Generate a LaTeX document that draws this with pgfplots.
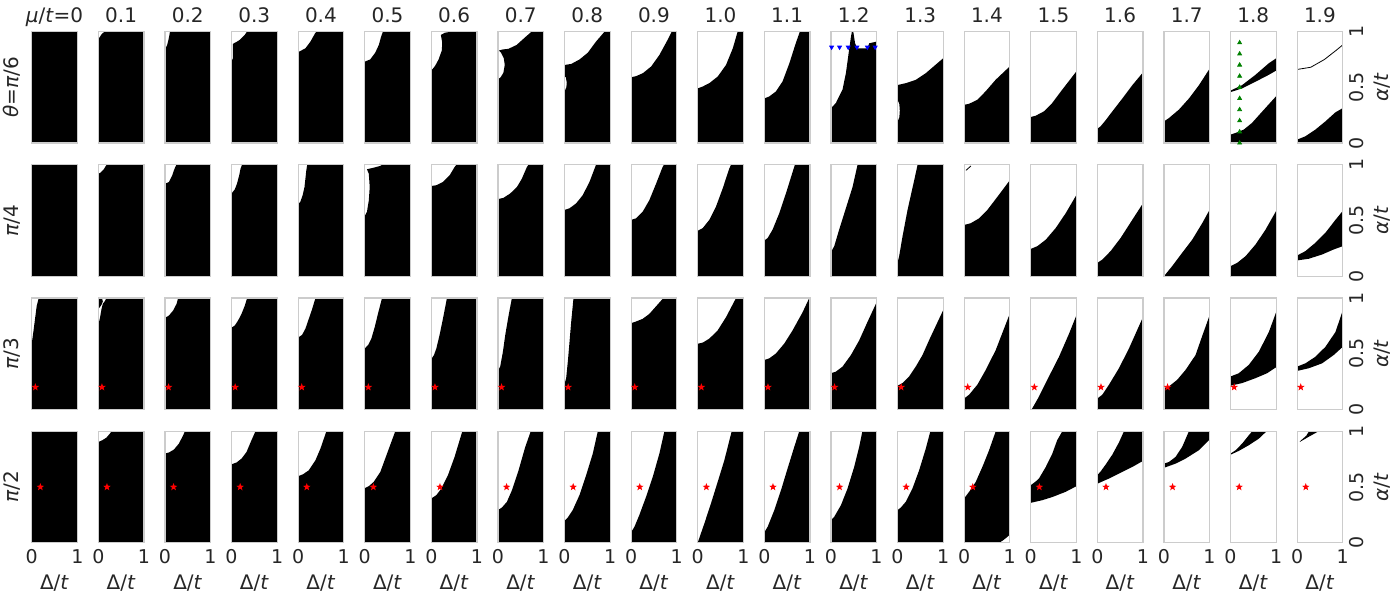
\documentclass[border=0pt]{standalone}
\usepackage{fontspec}
\setmainfont{DejaVu Sans}
\usepackage{pgfplots}
\pgfplotsset{compat=1.18}
\definecolor{txt}{RGB}{38,38,38}
\definecolor{frm}{RGB}{204,204,204}
\pgfdeclareplotmark{fstar}{%
 \pgfpathmoveto{\pgfpointpolar{90}{\pgfplotmarksize}}%
 \pgfpathlineto{\pgfpointpolar{126}{0.4\pgfplotmarksize}}%
 \pgfpathlineto{\pgfpointpolar{162}{\pgfplotmarksize}}%
 \pgfpathlineto{\pgfpointpolar{198}{0.4\pgfplotmarksize}}%
 \pgfpathlineto{\pgfpointpolar{234}{\pgfplotmarksize}}%
 \pgfpathlineto{\pgfpointpolar{270}{0.4\pgfplotmarksize}}%
 \pgfpathlineto{\pgfpointpolar{306}{\pgfplotmarksize}}%
 \pgfpathlineto{\pgfpointpolar{342}{0.4\pgfplotmarksize}}%
 \pgfpathlineto{\pgfpointpolar{18}{\pgfplotmarksize}}%
 \pgfpathlineto{\pgfpointpolar{54}{0.4\pgfplotmarksize}}%
 \pgfpathclose\pgfusepathqfillstroke}
\pgfplotsset{
 pnl/.style={scale only axis, width=22.8pt, height=55.7pt, xmin=0, xmax=1, ymin=0, ymax=1,
  anchor=south west, xtick=\empty, ytick=\empty,
  axis line style={draw=frm, line width=0.6pt}, axis on top, major tick length=0pt,
  tick label style={font=\fontsize{9.5}{11}\selectfont, text=txt},
  every axis title/.style={at={(0.5,1)}, anchor=base, yshift=4.5pt, font=\fontsize{10}{12}\selectfont, text=txt},
  every axis x label/.style={at={(axis description cs:0.5,0)}, anchor=base, yshift=-23.2pt, font=\fontsize{10}{12}\selectfont, text=txt}},
 bot/.style={xtick={0,1}, xticklabels={0,1}, xticklabel style={anchor=base, yshift=-10.3pt}, xlabel={Δ/\textit{t}}},
 lft/.style={ylabel={#1}, every axis y label/.style={at={(axis description cs:-0.432,0.5)}, rotate=90, anchor=center, font=\fontsize{10}{12}\selectfont, text=txt}},
 rgt/.style={ytick={0,0.5,1}, yticklabels={0,0.5,1}, yticklabel pos=right,
  yticklabel style={xshift=10.5pt, rotate=90, anchor=base},
  ylabel={\textit{α}/\textit{t}}, every axis y label/.style={at={(axis description cs:1.873,0.5)}, rotate=90, anchor=center, font=\fontsize{10}{12}\selectfont, text=txt}},
}
\newcommand\pnl[4]{\begin{axis}[pnl, at={({15.85pt+(#2-1)*33.3pt},{228.5pt-(#1-1)*66.62pt})}, #3]
#4
\end{axis}}
\newcommand\blk[1]{\addplot[fill=black, draw=none] coordinates {#1} -- cycle;}
\newcommand\rsa{\addplot[only marks, mark=fstar, mark size=1.4pt, color=red] coordinates {(0.08,0.2)};}
\newcommand\rsb{\addplot[only marks, mark=fstar, mark size=1.4pt, color=red] coordinates {(0.19,0.5)};}
\begin{document}
\begin{tikzpicture}
\useasboundingbox (0,0) rectangle (700pt,300pt);
% ---------------- row 1: theta = pi/6
\pnl{1}{1}{title={\textit{μ}/\textit{t}=0}, lft={\textit{θ}=\textit{π}/6}}{\blk{(0,0)(0,1)(1,1)(1,0)}}
\pnl{1}{2}{title={0.1}}{\blk{(0,0)(0,0.93)(0.03,0.95)(0.08,0.98)(0.14,1)(1,1)(1,0)}}
\pnl{1}{3}{title={0.2}}{\blk{(0,0)(0,0.84)(0.05,0.88)(0.08,0.93)(0.1,0.97)(0.11,1)(1,1)(1,0)}}
\pnl{1}{4}{title={0.3}}{\blk{(0,0)(0,0.73)(0.03,0.76)(0.03,0.89)(0.1,0.905)(0.18,0.925)(0.29,0.97)(0.34,1)(1,1)(1,0)}}
\pnl{1}{5}{title={0.4}}{\blk{(0,0)(0,0.815)(0.16,0.85)(0.27,0.91)(0.38,0.99)(0.42,1)(1,1)(1,0)}}
\pnl{1}{6}{title={0.5}}{\blk{(0,0)(0,0.73)(0.12,0.75)(0.23,0.81)(0.31,0.88)(0.36,0.955)(0.40,1)(1,1)(1,0)}}
\pnl{1}{7}{title={0.6}}{\blk{(0,0)(0,0.65)(0.08,0.69)(0.16,0.75)(0.23,0.83)(0.24,0.9)(0.21,0.97)(0.3,0.99)(0.45,1)(1,1)(1,0)}}
\pnl{1}{8}{title={0.7}}{\blk{(0,0)(0,0.57)(0.06,0.59)(0.12,0.63)(0.15,0.7)(0.13,0.76)(0.07,0.81)(0.02,0.83)(0.11,0.84)(0.23,0.845)(0.41,0.88)(0.6,0.95)(0.74,1)(1,1)(1,0)}}
\pnl{1}{9}{title={0.8}}{\blk{(0,0)(0,0.46)(0.04,0.5)(0.05,0.54)(0.03,0.59)(0,0.6)(0,0.70)(0.15,0.71)(0.33,0.75)(0.51,0.81)(0.69,0.91)(0.88,1)(1,1)(1,0)}}
\pnl{1}{10}{title={0.9}}{\blk{(0,0)(0,0.59)(0.11,0.60)(0.26,0.627)(0.44,0.687)(0.62,0.79)(0.80,0.925)(0.89,1)(1,1)(1,0)}}
\pnl{1}{11}{title={1.0}}{\blk{(0,0)(0,0.49)(0.11,0.507)(0.255,0.537)(0.44,0.597)(0.62,0.70)(0.77,0.85)(0.876,1)(1,1)(1,0)}}
\pnl{1}{12}{title={1.1}}{\blk{(0,0)(0,0.40)(0.11,0.418)(0.255,0.463)(0.40,0.552)(0.55,0.716)(0.69,0.896)(0.78,1)(1,1)(1,0)}}
\pnl{1}{13}{title={1.2}}{\blk{(0,0)(0,0.31)(0.11,0.36)(0.255,0.48)(0.33,0.63)(0.39,0.81)(0.44,0.955)(0.46,1)(0.49,1)(0.53,0.895)(0.58,0.85)(0.80,0.85)(0.84,0.895)(1,0.91)(1,0)}
 \addplot[only marks, mark=triangle*, mark options={rotate=180}, color=blue, mark size=1.1pt] coordinates {(0.015,0.86)(0.19,0.86)(0.38,0.86)(0.57,0.86)(0.8,0.86)(0.97,0.86)};}
\pnl{1}{14}{title={1.3}}{\blk{(0,0)(0,0.19)(0.04,0.23)(0.05,0.29)(0.04,0.35)(0,0.39)(0,0.52)(0.18,0.537)(0.40,0.567)(0.62,0.627)(0.8,0.69)(1,0.76)(1,0)}}
\pnl{1}{15}{title={1.4}}{\blk{(0,0)(0,0.343)(0.11,0.352)(0.29,0.388)(0.47,0.463)(0.69,0.567)(1,0.687)(1,0)}}
\pnl{1}{16}{title={1.5}}{\blk{(0,0)(0,0.233)(0.11,0.245)(0.29,0.284)(0.47,0.358)(0.69,0.478)(1,0.642)(1,0)}}
\pnl{1}{17}{title={1.6}}{\blk{(0,0)(0,0.128)(0.07,0.149)(0.18,0.203)(0.33,0.284)(0.55,0.40)(0.77,0.52)(1,0.633)(1,0)}}
\pnl{1}{18}{title={1.7}}{\blk{(0,0)(0,0.194)(0.11,0.224)(0.33,0.30)(0.55,0.40)(0.77,0.52)(1,0.666)(1,0)}}
\pnl{1}{19}{title={1.8}}{\blk{(0,0)(0,0.075)(0.11,0.09)(0.29,0.12)(0.47,0.18)(0.69,0.28)(1,0.42)(1,0)}
 \blk{(0,0.47)(0.255,0.52)(0.547,0.612)(0.84,0.716)(1,0.76)(1,0.65)(0.84,0.612)(0.547,0.55)(0.255,0.49)(0,0.457)}
 \addplot[only marks, mark=triangle*, color=green!50!black, mark size=1.1pt] coordinates {(0.2,0)(0.2,0.1)(0.2,0.2)(0.2,0.3)(0.2,0.4)(0.2,0.5)(0.2,0.6)(0.2,0.7)(0.2,0.8)(0.2,0.9)};}
\pnl{1}{20}{title={1.9}, rgt}{\blk{(0,0)(0,0.03)(0.18,0.06)(0.40,0.12)(0.62,0.194)(0.84,0.275)(1,0.313)(1,0)}
 \addplot[black, line width=0.4pt] coordinates {(0,0.66)(0.3,0.68)(0.6,0.75)(0.85,0.83)(1,0.88)};}
% ---------------- row 2: theta = pi/4
\pnl{2}{1}{lft={\textit{π}/4}}{\blk{(0,0)(0,1)(1,1)(1,0)}}
\pnl{2}{2}{}{\blk{(0,0)(0,0.92)(0.05,0.93)(0.12,0.96)(0.18,1)(1,1)(1,0)}}
\pnl{2}{3}{}{\blk{(0,0)(0,0.83)(0.09,0.846)(0.16,0.905)(0.21,0.964)(0.25,1)(1,1)(1,0)}}
\pnl{2}{4}{}{\blk{(0,0)(0,0.743)(0.07,0.778)(0.12,0.83)(0.168,0.905)(0.197,0.964)(0.23,1)(1,1)(1,0)}}
\pnl{2}{5}{}{\blk{(0,0)(0,0.645)(0.05,0.669)(0.1,0.728)(0.14,0.80)(0.16,0.876)(0.18,0.95)(0.2,1)(1,1)(1,0)}}
\pnl{2}{6}{}{\blk{(0,0)(0,0.54)(0.05,0.58)(0.09,0.68)(0.11,0.80)(0.09,0.92)(0.05,0.96)(0.2,0.975)(0.34,0.99)(0.38,1)(1,1)(1,0)}}
\pnl{2}{7}{}{\blk{(0,0)(0,0.45)(0.02,0.47)(0.02,0.56)(0,0.58)(0,0.81)(0.11,0.817)(0.255,0.846)(0.4,0.905)(0.51,0.98)(0.55,1)(1,1)(1,0)}}
\pnl{2}{8}{}{\blk{(0,0)(0,0.692)(0.124,0.704)(0.27,0.743)(0.416,0.80)(0.526,0.876)(0.635,0.98)(0.67,1)(1,1)(1,0)}}
\pnl{2}{9}{}{\blk{(0,0)(0,0.595)(0.11,0.61)(0.255,0.654)(0.40,0.728)(0.547,0.846)(0.657,0.964)(0.69,1)(1,1)(1,0)}}
\pnl{2}{10}{}{\blk{(0,0)(0,0.506)(0.11,0.52)(0.255,0.58)(0.40,0.683)(0.547,0.83)(0.69,0.98)(0.72,1)(1,1)(1,0)}}
\pnl{2}{11}{}{\blk{(0,0)(0,0.408)(0.11,0.432)(0.255,0.506)(0.40,0.624)(0.547,0.787)(0.69,0.964)(0.73,1)(1,1)(1,0)}}
\pnl{2}{12}{}{\blk{(0,0)(0,0.32)(0.073,0.343)(0.18,0.417)(0.328,0.565)(0.474,0.743)(0.62,0.935)(0.67,1)(1,1)(1,0)}}
\pnl{2}{13}{}{\blk{(0,0)(0,0.216)(0.073,0.27)(0.18,0.417)(0.328,0.61)(0.474,0.80)(0.584,1)(1,1)(1,0)}}
\pnl{2}{14}{}{\blk{(0,0)(0,0.12)(0.036,0.18)(0.11,0.358)(0.22,0.595)(0.365,0.86)(0.44,1)(1,1)(1,0)}}
\pnl{2}{15}{}{\blk{(0,0)(0,0.46)(0.146,0.476)(0.33,0.52)(0.51,0.595)(0.73,0.713)(1,0.86)(1,0)}
 \addplot[black, line width=0.4pt] coordinates {(0.04,0.95)(0.15,0.99)};}
\pnl{2}{16}{}{\blk{(0,0)(0,0.245)(0.146,0.27)(0.33,0.328)(0.547,0.432)(0.766,0.565)(1,0.728)(1,0)}}
\pnl{2}{17}{}{\blk{(0,0)(0,0.12)(0.11,0.15)(0.29,0.225)(0.51,0.343)(0.766,0.506)(1,0.654)(1,0)}}
\pnl{2}{18}{}{\blk{(0,0)(0.18,0.09)(0.4,0.21)(0.62,0.328)(0.84,0.476)(1,0.595)(1,0)}}
\pnl{2}{19}{}{\blk{(0,0)(0,0.09)(0.146,0.12)(0.33,0.18)(0.547,0.284)(0.766,0.417)(1,0.586)(1,0)}}
\pnl{2}{20}{rgt}{\blk{(0,0.186)(0.18,0.225)(0.4,0.30)(0.62,0.39)(0.84,0.506)(1,0.586)(1,0.27)(0.80,0.24)(0.547,0.195)(0.255,0.157)(0,0.142)}}
% ---------------- row 3: theta = pi/3
\pnl{3}{1}{lft={\textit{π}/3}}{\blk{(0,0)(0,0.59)(0.036,0.695)(0.073,0.813)(0.11,0.93)(0.153,1)(1,1)(1,0)}\rsa}
\pnl{3}{2}{}{\blk{(0,0)(0,0.754)(0.04,0.83)(0.07,0.9)(0.1,0.95)(0.14,0.97)(0.18,1)(1,1)(1,0)}\blk{(0,0.9)(0.07,0.94)(0.1,0.97)(0.08,1)(0,1)}\rsa}
\pnl{3}{3}{}{\blk{(0,0)(0,0.822)(0.088,0.843)(0.18,0.888)(0.255,0.947)(0.29,1)(1,1)(1,0)}\rsa}
\pnl{3}{4}{}{\blk{(0,0)(0,0.734)(0.073,0.754)(0.146,0.8)(0.22,0.858)(0.29,0.93)(0.343,1)(1,1)(1,0)}\rsa}
\pnl{3}{5}{}{\blk{(0,0)(0,0.645)(0.088,0.67)(0.16,0.725)(0.234,0.813)(0.307,0.90)(0.38,1)(1,1)(1,0)}\rsa}
\pnl{3}{6}{}{\blk{(0,0)(0,0.547)(0.073,0.577)(0.146,0.636)(0.22,0.74)(0.29,0.858)(0.38,1)(1,1)(1,0)}\rsa}
\pnl{3}{7}{}{\blk{(0,0)(0,0.453)(0.058,0.488)(0.11,0.547)(0.18,0.666)(0.255,0.814)(0.343,1)(1,1)(1,0)}\rsa}
\pnl{3}{8}{}{\blk{(0,0)(0,0.346)(0.05,0.385)(0.11,0.518)(0.16,0.666)(0.234,0.843)(0.307,1)(1,1)(1,0)}\rsa}
\pnl{3}{9}{}{\blk{(0,0)(0,0.23)(0.036,0.28)(0.073,0.43)(0.11,0.607)(0.146,0.784)(0.197,1)(1,1)(1,0)}\rsa}
\pnl{3}{10}{}{\blk{(0,0)(0,0.775)(0.11,0.79)(0.255,0.814)(0.4,0.858)(0.547,0.926)(0.708,1)(1,1)(1,0)}\rsa}
\pnl{3}{11}{}{\blk{(0,0)(0,0.59)(0.11,0.6)(0.255,0.636)(0.438,0.71)(0.62,0.828)(0.84,1)(1,1)(1,0)}\rsa}
\pnl{3}{12}{}{\blk{(0,0)(0,0.444)(0.11,0.459)(0.255,0.503)(0.438,0.592)(0.62,0.71)(0.84,0.873)(0.985,1)(1,1)(1,0)}\rsa}
\pnl{3}{13}{}{\blk{(0,0)(0,0.325)(0.11,0.34)(0.255,0.385)(0.438,0.488)(0.62,0.62)(0.8,0.784)(1,0.96)(1,0)}\rsa}
\pnl{3}{14}{}{\blk{(0,0)(0,0.213)(0.11,0.237)(0.255,0.296)(0.4,0.385)(0.547,0.488)(0.69,0.62)(0.85,0.76)(1,0.89)(1,0)}\rsa}
\pnl{3}{15}{}{\blk{(0,0)(0,0.098)(0.11,0.133)(0.29,0.222)(0.474,0.355)(0.693,0.533)(1,0.858)(1,0)}\rsa}
\pnl{3}{16}{}{\blk{(0.02,0)(0.16,0.1)(0.38,0.28)(0.62,0.473)(0.84,0.68)(1,0.843)(1,0)}\rsa}
\pnl{3}{17}{}{\blk{(0,0)(0,0.098)(0.11,0.133)(0.255,0.222)(0.474,0.37)(0.693,0.547)(1,0.828)(1,0)}\rsa}
\pnl{3}{18}{}{\blk{(0,0)(0,0.192)(0.11,0.207)(0.29,0.266)(0.474,0.355)(0.693,0.488)(0.84,0.66)(1,0.843)(1,0)}\rsa}
\pnl{3}{19}{}{\blk{(0,0.296)(0.18,0.325)(0.4,0.4)(0.62,0.518)(0.84,0.695)(1,0.873)(1,0.379)(0.8,0.325)(0.547,0.281)(0.255,0.237)(0,0.213)}\rsa}
\pnl{3}{20}{rgt}{\blk{(0,0.385)(0.18,0.414)(0.4,0.473)(0.62,0.562)(0.84,0.695)(1,0.888)(1,0.562)(0.8,0.488)(0.547,0.414)(0.255,0.37)(0,0.346)}\rsa}
% ---------------- row 4: theta = pi/2
\pnl{4}{1}{bot, lft={\textit{π}/2}}{\blk{(0,0)(0,1)(1,1)(1,0)}\rsb}
\pnl{4}{2}{bot}{\blk{(0,0)(0,0.904)(0.088,0.92)(0.18,0.944)(0.255,0.98)(0.29,1)(1,1)(1,0)}\rsb}
\pnl{4}{3}{bot}{\blk{(0,0)(0,0.8)(0.088,0.81)(0.197,0.836)(0.307,0.89)(0.4,0.964)(0.438,1)(1,1)(1,0)}\rsb}
\pnl{4}{4}{bot}{\blk{(0,0)(0,0.704)(0.11,0.72)(0.22,0.755)(0.33,0.815)(0.438,0.92)(0.525,1)(1,1)(1,0)}\rsb}
\pnl{4}{5}{bot}{\blk{(0,0)(0,0.597)(0.11,0.615)(0.234,0.65)(0.38,0.74)(0.49,0.845)(0.62,1)(1,1)(1,0)}\rsb}
\pnl{4}{6}{bot}{\blk{(0,0)(0,0.49)(0.088,0.507)(0.197,0.546)(0.343,0.636)(0.49,0.8)(0.67,1)(1,1)(1,0)}\rsb}
\pnl{4}{7}{bot}{\blk{(0,0)(0,0.397)(0.11,0.427)(0.22,0.487)(0.365,0.606)(0.51,0.77)(0.68,1)(1,1)(1,0)}\rsb}
\pnl{4}{8}{bot}{\blk{(0,0)(0,0.293)(0.088,0.316)(0.197,0.367)(0.307,0.47)(0.453,0.65)(0.6,0.86)(0.72,1)(1,1)(1,0)}\rsb}
\pnl{4}{9}{bot}{\blk{(0,0)(0,0.197)(0.073,0.227)(0.18,0.293)(0.328,0.427)(0.474,0.606)(0.62,0.8)(0.73,1)(1,1)(1,0)}\rsb}
\pnl{4}{10}{bot}{\blk{(0,0)(0,0.093)(0.073,0.143)(0.18,0.248)(0.328,0.412)(0.474,0.59)(0.62,0.8)(0.73,1)(1,1)(1,0)}\rsb}
\pnl{4}{11}{bot}{\blk{(0,0)(0.146,0.173)(0.29,0.352)(0.438,0.546)(0.584,0.74)(0.745,1)(1,1)(1,0)}\rsb}
\pnl{4}{12}{bot}{\blk{(0,0)(0,0.093)(0.073,0.143)(0.22,0.293)(0.365,0.47)(0.51,0.666)(0.657,0.86)(0.766,1)(1,1)(1,0)}\rsb}
\pnl{4}{13}{bot}{\blk{(0,0)(0,0.203)(0.073,0.233)(0.22,0.337)(0.365,0.487)(0.51,0.68)(0.62,0.86)(0.69,1)(1,1)(1,0)}\rsb}
\pnl{4}{14}{bot}{\blk{(0,0)(0,0.293)(0.073,0.316)(0.18,0.367)(0.328,0.487)(0.474,0.65)(0.62,0.845)(0.72,1)(1,1)(1,0)}\rsb}
\pnl{4}{15}{bot}{\blk{(0,0)(0,0.397)(0.11,0.457)(0.255,0.546)(0.4,0.68)(0.547,0.83)(0.693,1)(1,1)(1,0.07)(0.85,0.02)(0.77,0)}\rsb}
\pnl{4}{16}{bot}{\blk{(0,0.516)(0.11,0.55)(0.18,0.576)(0.33,0.68)(0.474,0.8)(0.58,0.92)(0.693,1)(1,1)(1,0.507)(0.766,0.457)(0.474,0.41)(0.255,0.382)(0,0.358)}\rsb}
\pnl{4}{17}{bot}{\blk{(0,0.606)(0.073,0.64)(0.18,0.7)(0.328,0.79)(0.474,0.9)(0.584,1)(1,1)(1,0.734)(0.766,0.68)(0.474,0.62)(0.255,0.576)(0,0.53)}\rsb}
\pnl{4}{18}{bot}{\blk{(0,0.71)(0.11,0.725)(0.255,0.77)(0.4,0.86)(0.51,0.964)(0.547,1)(1,1)(1,0.925)(0.766,0.83)(0.474,0.755)(0.255,0.71)(0,0.672)}\rsb}
\pnl{4}{19}{bot}{\blk{(0,0.8)(0.11,0.83)(0.255,0.89)(0.4,0.964)(0.474,1)(0.79,1)(0.62,0.934)(0.4,0.875)(0.18,0.824)(0,0.79)}\rsb}
\pnl{4}{20}{bot, rgt}{\blk{(0.06,0.91)(0.2,0.96)(0.26,1)(0.47,1)(0.25,0.95)(0.06,0.905)}\rsb}
\end{tikzpicture}
\end{document}
